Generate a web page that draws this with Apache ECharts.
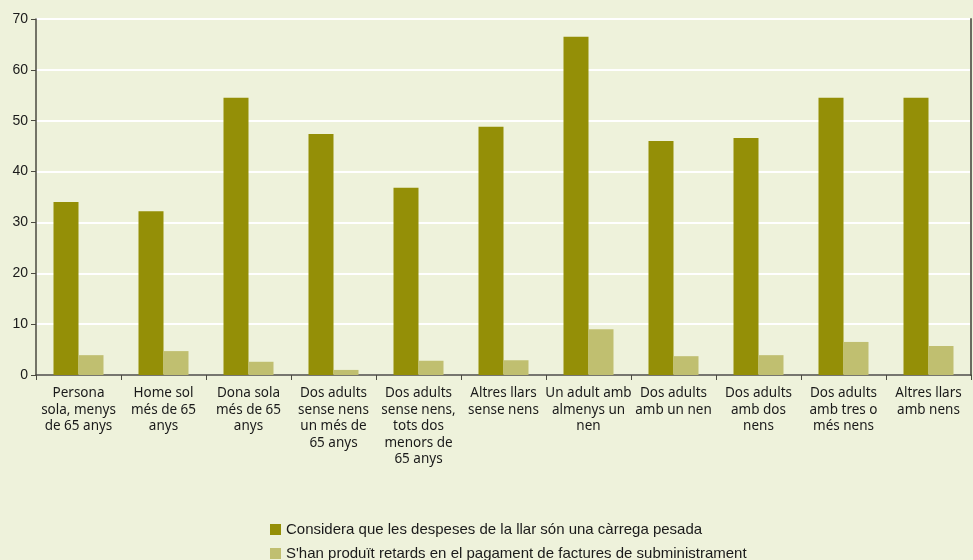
<!DOCTYPE html>
<html>
<head>
<meta charset="utf-8">
<script src="https://cdn.jsdelivr.net/npm/echarts@6/dist/echarts.min.js"></script>
<style>
  html, body { margin: 0; padding: 0; background: #eef2db; }
  #main { width: 973px; height: 560px; }
</style>
</head>
<body>
<div id="main"></div>
<script>
// categories (tipus de llar)
var categories = [
    'Persona\nsola, menys\nde 65 anys',
    'Home sol\nmés de 65\nanys',
    'Dona sola\nmés de 65\nanys',
    'Dos adults\nsense nens\nun més de\n65 anys',
    'Dos adults\nsense nens,\ntots dos\nmenors de\n65 anys',
    'Altres llars\nsense nens',
    'Un adult amb\nalmenys un\nnen',
    'Dos adults\namb un nen',
    'Dos adults\namb dos\nnens',
    'Dos adults\namb tres o\nmés nens',
    'Altres llars\namb nens'
];

var seriesNames = [
    'Considera que les despeses de la llar són una càrrega pesada',
    "S'han produït retards en el pagament de factures de subministrament"
];

var carregaPesada = [34.0, 32.2, 54.5, 47.4, 36.8, 48.8, 66.5, 46.0, 46.6, 54.5, 54.5];
var retards = [3.9, 4.7, 2.6, 1.0, 2.8, 2.9, 9.0, 3.7, 3.9, 6.5, 5.7];

var myChart = echarts.init(document.getElementById('main'));

var legendText = {
    fontFamily: 'Liberation Sans',
    fontSize: 15,
    color: '#1a1a1a'
};

var option = {
    backgroundColor: '#eef2db',
    animation: false,
    grid: {
        left: 36,
        right: 2,
        top: 19,
        bottom: 185
    },
    //图例 (una per línia)
    legend: [{
        left: 265,
        top: 520,
        padding: [2, 5],
        itemWidth: 11,
        itemHeight: 11,
        itemGap: 4,
        icon: 'rect',
        textStyle: legendText,
        data: [seriesNames[0]]
    }, {
        left: 265,
        top: 544,
        padding: [2, 5],
        itemWidth: 11,
        itemHeight: 11,
        itemGap: 4,
        icon: 'rect',
        textStyle: legendText,
        data: [seriesNames[1]]
    }],
    xAxis: [{
        type: 'category',
        data: categories,
        axisLine: { lineStyle: { color: '#4a4a40', width: 1.5 } },
        axisTick: { show: true, length: 5, lineStyle: { color: '#4a4a40' } },
        axisLabel: {
            interval: 0,
            margin: 10,
            fontFamily: 'Noto Sans',
            fontSize: 13.5,
            lineHeight: 16.5,
            color: '#1a1a1a'
        }
    }],
    yAxis: [{
        type: 'value',
        min: 0,
        max: 70,
        interval: 10,
        axisLine: { show: true, lineStyle: { color: '#4a4a40', width: 1.5 } },
        axisTick: { show: true, length: 5, lineStyle: { color: '#4a4a40' } },
        axisLabel: {
            margin: 8,
            fontFamily: 'Liberation Sans',
            fontSize: 14,
            color: '#1a1a1a'
        },
        splitLine: { lineStyle: { color: '#ffffff', width: 2 } }
    }, {
        //右边框
        type: 'value',
        min: 0,
        max: 70,
        interval: 10,
        position: 'right',
        axisLine: { show: true, lineStyle: { color: '#6b6b60', width: 2 } },
        axisTick: { show: false },
        axisLabel: { show: false },
        splitLine: { show: false }
    }],
    series: [{
        name: seriesNames[0],
        type: 'bar',
        barWidth: 25,
        barGap: '0%',
        itemStyle: { color: '#948f07' },
        data: carregaPesada
    }, {
        name: seriesNames[1],
        type: 'bar',
        barWidth: 25,
        barGap: '0%',
        itemStyle: { color: '#c0bf70' },
        data: retards
    }]
};

myChart.setOption(option);
</script>
</body>
</html>
